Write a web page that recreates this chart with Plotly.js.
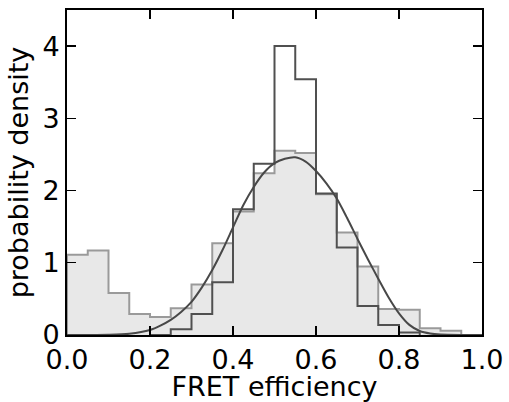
<!DOCTYPE html>
<html>
<head>
<meta charset="utf-8">
<script src="https://cdn.plot.ly/plotly-3.0.1.min.js"></script>
<style>html,body{margin:0;padding:0;background:#fff;}#chart{width:509px;height:402px;}</style>
</head>
<body>
<div id="chart"></div>
<script>
// Light (all molecules) histogram: bin edges and densities
const lightEdges = [0.00,0.05,0.10,0.15,0.20,0.25,0.30,0.35,0.40,0.45,0.50,0.55,0.60,0.65,0.70,0.75,0.80,0.85,0.90,0.95];
const lightDensity = [1.11,1.17,0.58,0.29,0.25,0.37,0.70,1.27,1.71,2.24,2.55,2.52,1.95,1.42,0.95,0.36,0.35,0.095,0.06];

// Dark (selected) histogram
const darkEdges = [0.20,0.25,0.30,0.35,0.40,0.45,0.50,0.55,0.60,0.65,0.70,0.75,0.80,0.85];
const darkDensity = [0.00,0.08,0.29,0.73,1.74,2.37,4.00,3.54,1.96,1.21,0.40,0.14,0.035];

// Fitted curve
const curveX = [0.00,0.05,0.10,0.15,0.20,0.225,0.25,0.275,0.30,0.325,0.35,0.375,0.40,0.425,0.45,0.475,0.50,0.525,0.55,0.575,0.60,0.625,0.65,0.675,0.70,0.725,0.75,0.775,0.80,0.825,0.85,0.875,0.90,0.95,1.00];
const curveY = [0.00,0.00,0.003,0.018,0.07,0.13,0.21,0.32,0.46,0.66,0.90,1.18,1.49,1.80,2.05,2.25,2.38,2.44,2.46,2.40,2.27,2.10,1.89,1.62,1.33,1.05,0.78,0.52,0.30,0.14,0.055,0.02,0.006,0.00,0.00];

const xTicks = [0.0,0.2,0.4,0.6,0.8,1.0];
const xTickText = ["0.0","0.2","0.4","0.6","0.8","1.0"];
const yTicks = [0,1,2,3,4];
const yTickText = ["0","1","2","3","4"];

function stepPath(edges, vals) {
  const x = [edges[0]], y = [0];
  for (let i = 0; i < vals.length; i++) { x.push(edges[i]); y.push(vals[i]); }
  const last = edges[edges.length - 1];
  x.push(last); y.push(vals[vals.length - 1]);
  x.push(last); y.push(0);
  return {x, y};
}

const L = stepPath(lightEdges, lightDensity);
const D = stepPath(darkEdges, darkDensity);

const traces = [
  {x: L.x, y: L.y, type: 'scatter', mode: 'lines', line: {shape: 'hv', color: '#9a9a9a', width: 2}, fill: 'tozeroy', fillcolor: '#e8e8e8', hoverinfo: 'skip'},
  {x: D.x, y: D.y, type: 'scatter', mode: 'lines', line: {shape: 'hv', color: '#505050', width: 2}, hoverinfo: 'skip'},
  {x: curveX, y: curveY, type: 'scatter', mode: 'lines', line: {shape: 'spline', smoothing: 0.8, color: '#484848', width: 2}, hoverinfo: 'skip'}
];

const font = {family: 'DejaVu Sans, sans-serif', size: 27, color: '#000'};
const layout = {
  width: 509, height: 402,
  margin: {l: 67, r: 27, t: 10, b: 67, pad: 0},
  paper_bgcolor: '#fff', plot_bgcolor: '#fff',
  showlegend: false,
  font: font,
  xaxis: {
    range: [0, 1], tickmode: 'array', tickvals: xTicks, ticktext: xTickText,
    ticks: 'inside', ticklen: 9, tickwidth: 1.3, tickcolor: '#000',
    showline: true, linewidth: 2, linecolor: '#000', mirror: 'ticks',
    showgrid: false, zeroline: false, tickfont: font,
    title: {text: 'FRET efficiency', font: font, standoff: 8}
  },
  yaxis: {
    range: [0, 4.5], tickmode: 'array', tickvals: yTicks, ticktext: yTickText,
    ticks: 'inside', ticklen: 9, tickwidth: 1.3, tickcolor: '#000',
    showline: true, linewidth: 2, linecolor: '#000', mirror: 'ticks',
    showgrid: false, zeroline: false, tickfont: font,
    title: {text: 'probability density', font: font, standoff: 6}
  }
};

Plotly.newPlot('chart', traces, layout, {staticPlot: true, displayModeBar: false});
</script>
</body>
</html>
